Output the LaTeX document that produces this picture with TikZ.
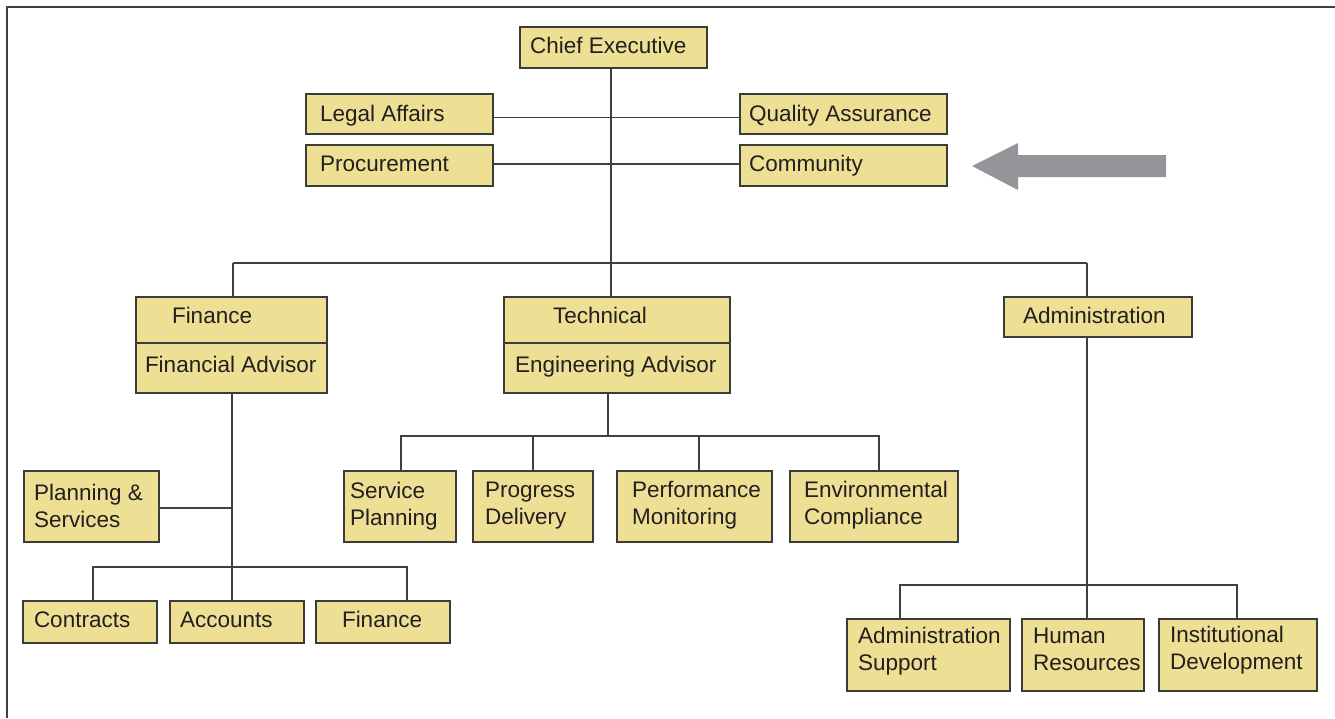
\documentclass[tikz,border=0pt]{standalone}
\usepackage{fontspec}
\setmainfont{Liberation Sans}
\definecolor{boxfill}{HTML}{EDDF94}
\definecolor{boxline}{HTML}{3C3C36}
\definecolor{linkgray}{HTML}{404040}
\definecolor{ink}{HTML}{231F20}
\definecolor{arrowgray}{HTML}{939598}
% org box from its corners: name, x1, y1, x2, y2
\newcommand\orgbox[5]{%
  \node[box, minimum width={#4-#2}, minimum height={#5-#3}] (#1) at ({(#2+#4)/2},{(#3+#5)/2}) {};}
\begin{document}
\begin{tikzpicture}[x=1pt,y=-1pt,
  box/.style={draw=boxline, fill=boxfill, line width=1.1pt, inner sep=0pt, outer sep=0pt},
  % labels sit on the baseline of their last line
  lbl/.style={anchor=base west, inner sep=0pt, outer sep=0pt, text=ink,
    font=\fontsize{22.5}{26.7}\selectfont, align=left},
  link/.style={draw=linkgray, line width=1.2pt},
  frameline/.style={draw=linkgray, line width=1.3pt},
]
\useasboundingbox (0,0) rectangle (1335,718);

% page frame
\draw[frameline] (7,718) -- (7,7) -- (1335,7);

% ---- boxes ----
\orgbox{ceo}{520}{27}{707}{68}
\orgbox{legal}{306}{94}{493}{134}
\orgbox{proc}{306}{145}{493}{186}
\orgbox{qa}{740}{94}{947}{134}
\orgbox{comm}{740}{145}{947}{186}

\orgbox{fin}{136}{297}{327}{393}
\orgbox{tech}{504}{297}{730}{393}
\orgbox{admin}{1004}{297}{1192}{337}
\draw[box] (fin.west |- 0,343) -- (fin.east |- 0,343);
\draw[box] (tech.west |- 0,343) -- (tech.east |- 0,343);

\orgbox{plan}{24}{471}{159}{542}
\orgbox{contr}{23}{601}{157}{643}
\orgbox{acc}{170}{601}{304}{643}
\orgbox{finsub}{316}{601}{450}{643}

\orgbox{svc}{344}{471}{456}{542}
\orgbox{prog}{473}{471}{593}{542}
\orgbox{perf}{617}{471}{772}{542}
\orgbox{env}{790}{471}{958}{542}

\orgbox{adsup}{847}{619}{1010}{691}
\orgbox{hr}{1022}{619}{1144}{691}
\orgbox{inst}{1159}{619}{1317}{691}

% ---- labels ----
\node[lbl] (ceo-t) at (530,53) {Chief Executive};
\node[lbl] (legal-t) at (320,121.5) {Legal Affairs};
\node[lbl] (proc-t) at (320,171) {Procurement};
\node[lbl] (qa-t) at (749,121.5) {Quality Assurance};
\node[lbl] (comm-t) at (749,171) {Community};

\node[lbl] (fin-t) at (172,323) {Finance};
\node[lbl] (fin-t2) at (145,372) {Financial Advisor};
\node[lbl] (tech-t) at (553,323) {Technical};
\node[lbl] (tech-t2) at (515,372) {Engineering Advisor};
\node[lbl] (admin-t) at (1023,323) {Administration};

\node[lbl] (plan-t) at (34,527) {Planning \&\\Services};
\node[lbl] (contr-t) at (34,627.5) {Contracts};
\node[lbl] (acc-t) at (180,627.5) {Accounts};
\node[lbl] (finsub-t) at (342,627.5) {Finance};

\node[lbl] (svc-t) at (350,525) {Service\\Planning};
\node[lbl] (prog-t) at (485,524) {Progress\\Delivery};
\node[lbl] (perf-t) at (632,524) {Performance\\Monitoring};
\node[lbl] (env-t) at (804,524) {Environmental\\Compliance};

\node[lbl] (adsup-t) at (858,670) {Administration\\Support};
\node[lbl] (hr-t) at (1033,670) {Human\\Resources};
\node[lbl] (inst-t) at (1170,669) {Institutional\\Development};

% ---- connector junctions ----
\coordinate (j0) at (611,263);
\coordinate (busL) at (233,263);
\coordinate (busR) at (1087,263);
\coordinate (fj) at (232,567);
\coordinate (fbusL) at (93,567);
\coordinate (fbusR) at (407,567);
\coordinate (tj) at (608,436);
\coordinate (tbusL) at (401,436);
\coordinate (tbus2) at (533,436);
\coordinate (tbus3) at (699,436);
\coordinate (tbusR) at (879,436);
\coordinate (aj) at (1087,585);
\coordinate (abusL) at (900,585);
\coordinate (abusR) at (1237,585);

% ---- connectors ----
\draw[link] (ceo.south -| j0) -- (j0);
\draw[link] ([yshift=-3.5pt]legal.east) -- ([yshift=-3.5pt]qa.west);
\draw[link] ([yshift=1.5pt]proc.east) -- ([yshift=1.5pt]comm.west);

\draw[link] (busL) -- (busR);
\draw[link] (busL) -- (busL |- fin.north);
\draw[link] (j0) -- (j0 |- tech.north);
\draw[link] (busR) -- (busR |- admin.north);

% finance branch
\draw[link] (fj |- fin.south) -- (fj |- acc.north);
\draw[link] ([yshift=-1.5pt]plan.east) -- ([yshift=-1.5pt]plan.east -| fj);
\draw[link] (fbusL |- contr.north) -- (fbusL) -- (fbusR) -- (fbusR |- finsub.north);

% technical branch
\draw[link] (tj |- tech.south) -- (tj);
\draw[link] (tbusL |- svc.north) -- (tbusL) -- (tbusR) -- (tbusR |- env.north);
\draw[link] (tbus2) -- (tbus2 |- prog.north);
\draw[link] (tbus3) -- (tbus3 |- perf.north);

% administration branch
\draw[link] (aj |- admin.south) -- (aj |- hr.north);
\draw[link] (abusL |- adsup.north) -- (abusL) -- (abusR) -- (abusR |- inst.north);

% pointer arrow
\fill[arrowgray] (972,166) -- (1018,143) -- (1018,155) -- (1166,155)
  -- (1166,177) -- (1018,177) -- (1018,190) -- cycle;
\end{tikzpicture}
\end{document}
